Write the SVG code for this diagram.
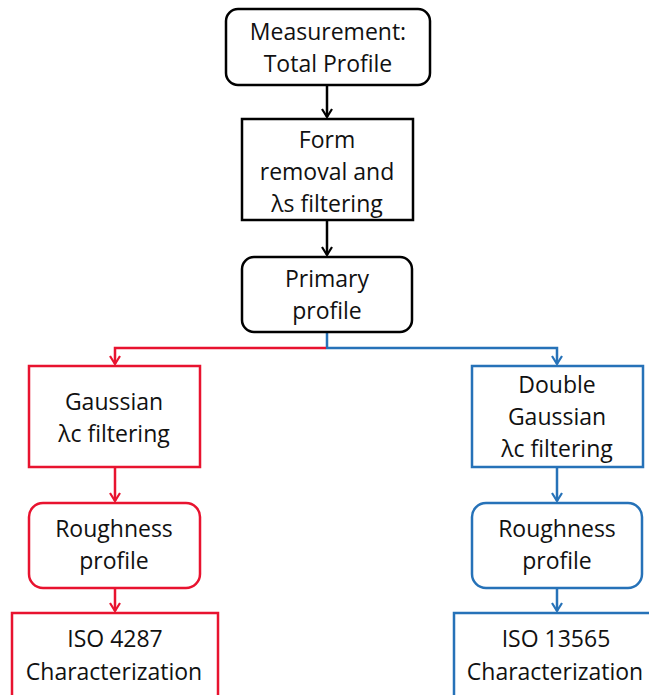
<svg xmlns="http://www.w3.org/2000/svg" width="649" height="695" viewBox="0 0 649 695">
  <defs>
    <style>
      .box { fill: #fff; stroke-width: 2.5; }
      .k { stroke: #000; }
      .r { stroke: #E8132F; }
      .b { stroke: #2672B8; }
      .lbl { font-family: "Open Sans", "Liberation Sans", sans-serif; font-size: 23px; fill: #111; text-anchor: middle; }
      .wire { fill: none; stroke-width: 2.5; }
    </style>
    <marker id="arrK" viewBox="0 0 10 12" refX="9" refY="6" markerWidth="10" markerHeight="12" markerUnits="userSpaceOnUse" orient="auto">
      <path d="M1,1 L9,6 L1,11" fill="none" stroke="#000" stroke-width="2.2"/>
    </marker>
    <marker id="arrR" viewBox="0 0 10 12" refX="9" refY="6" markerWidth="10" markerHeight="12" markerUnits="userSpaceOnUse" orient="auto">
      <path d="M1,1 L9,6 L1,11" fill="none" stroke="#E8132F" stroke-width="2.2"/>
    </marker>
    <marker id="arrB" viewBox="0 0 10 12" refX="9" refY="6" markerWidth="10" markerHeight="12" markerUnits="userSpaceOnUse" orient="auto">
      <path d="M1,1 L9,6 L1,11" fill="none" stroke="#2672B8" stroke-width="2.2"/>
    </marker>
  </defs>

  <rect width="649" height="695" fill="#fff"/>

  <!-- connectors -->
  <g id="connectors">
    <path class="wire k" d="M327,86 V117" marker-end="url(#arrK)"/>
    <path class="wire k" d="M327,221 V255" marker-end="url(#arrK)"/>
    <path class="wire b" d="M327,332 V348 H557 V364" marker-end="url(#arrB)"/>
    <path class="wire r" d="M326,348 H115 V364" marker-end="url(#arrR)"/>
    <path class="wire r" d="M115,468 V501" marker-end="url(#arrR)"/>
    <path class="wire r" d="M115,588 V611" marker-end="url(#arrR)"/>
    <path class="wire b" d="M557,468 V501" marker-end="url(#arrB)"/>
    <path class="wire b" d="M557,588 V611" marker-end="url(#arrB)"/>
  </g>

  <g id="measurement">
    <rect class="box k" x="226" y="9" width="204" height="76" rx="12"/>
    <text class="lbl" x="328" y="40">Measurement:</text>
    <text class="lbl" x="328" y="72">Total Profile</text>
  </g>

  <g id="form-removal">
    <rect class="box k" x="242" y="119" width="171" height="101"/>
    <text class="lbl" x="327" y="148">Form</text>
    <text class="lbl" x="327" y="180">removal and</text>
    <text class="lbl" x="327" y="212">λs filtering</text>
  </g>

  <g id="primary-profile">
    <rect class="box k" x="242" y="257" width="170" height="75" rx="12"/>
    <text class="lbl" x="327" y="287">Primary</text>
    <text class="lbl" x="327" y="319">profile</text>
  </g>

  <g id="gaussian">
    <rect class="box r" x="29" y="366" width="171" height="101"/>
    <text class="lbl" x="114" y="410">Gaussian</text>
    <text class="lbl" x="114" y="442">λc filtering</text>
  </g>

  <g id="double-gaussian">
    <rect class="box b" x="472" y="366" width="171" height="101"/>
    <text class="lbl" x="557" y="393">Double</text>
    <text class="lbl" x="557" y="425">Gaussian</text>
    <text class="lbl" x="557" y="457">λc filtering</text>
  </g>

  <g id="roughness-left">
    <rect class="box r" x="29" y="503" width="171" height="85" rx="14"/>
    <text class="lbl" x="114" y="537">Roughness</text>
    <text class="lbl" x="114" y="569">profile</text>
  </g>

  <g id="roughness-right">
    <rect class="box b" x="472" y="503" width="170" height="85" rx="14"/>
    <text class="lbl" x="557" y="537">Roughness</text>
    <text class="lbl" x="557" y="569">profile</text>
  </g>

  <g id="iso-4287">
    <rect class="box r" x="12" y="613" width="206" height="100"/>
    <text class="lbl" x="115" y="647">ISO 4287</text>
    <text class="lbl" x="114" y="680">Characterization</text>
  </g>

  <g id="iso-13565">
    <rect class="box b" x="454" y="613" width="206" height="100"/>
    <text class="lbl" x="556" y="647">ISO 13565</text>
    <text class="lbl" x="555" y="680">Characterization</text>
  </g>
</svg>
